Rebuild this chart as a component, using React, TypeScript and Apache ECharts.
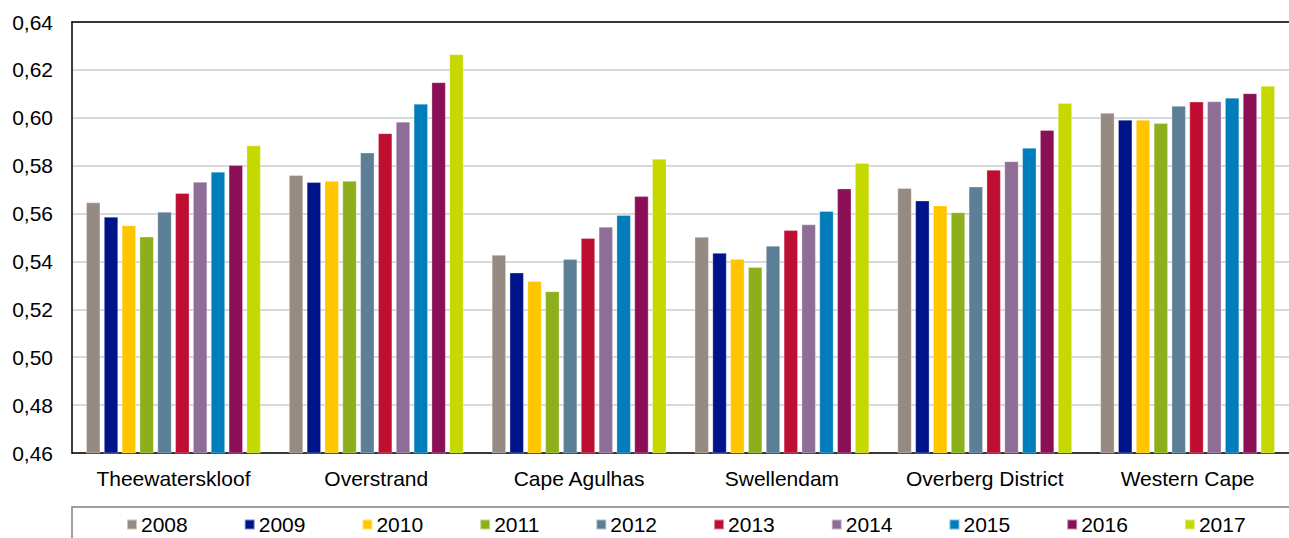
import React, { useEffect, useRef } from "react";
import * as echarts from "echarts";

const categories = ["Theewaterskloof", "Overstrand", "Cape Agulhas", "Swellendam", "Overberg District", "Western Cape"];
const years = ["2008", "2009", "2010", "2011", "2012", "2013", "2014", "2015", "2016", "2017"];
const colors = ["#968B82", "#001489", "#FFC600", "#8DAF1C", "#5C7F96", "#BE0E32", "#8E6D97", "#007DBA", "#8A0F57", "#C5D800"];

// values per year, across categories
const v2008 = [0.5646, 0.5760, 0.5427, 0.5502, 0.5706, 0.6020];
const v2009 = [0.5586, 0.5731, 0.5353, 0.5435, 0.5654, 0.5991];
const v2010 = [0.5550, 0.5736, 0.5317, 0.5410, 0.5633, 0.5991];
const v2011 = [0.5503, 0.5736, 0.5275, 0.5376, 0.5605, 0.5977];
const v2012 = [0.5607, 0.5854, 0.5409, 0.5465, 0.5712, 0.6049];
const v2013 = [0.5685, 0.5935, 0.5497, 0.5530, 0.5782, 0.6067];
const v2014 = [0.5732, 0.5983, 0.5544, 0.5554, 0.5818, 0.6068];
const v2015 = [0.5774, 0.6058, 0.5593, 0.5610, 0.5874, 0.6083];
const v2016 = [0.5802, 0.6148, 0.5672, 0.5704, 0.5948, 0.6102];
const v2017 = [0.5884, 0.6265, 0.5828, 0.5810, 0.6061, 0.6133];
const seriesValues = [v2008, v2009, v2010, v2011, v2012, v2013, v2014, v2015, v2016, v2017];

const FONT = "'Liberation Sans', Arial, sans-serif";

export default function App() {
  const ref = useRef<HTMLDivElement>(null);
  useEffect(() => {
    if (!ref.current) return;
    const chart = echarts.init(ref.current, undefined, { renderer: "svg" });
    chart.setOption({
      animation: false,
      backgroundColor: "#ffffff",
      grid: { left: 72, right: 0, top: 22, bottom: 85, containLabel: false },
      legend: {
        data: years,
        left: 121,
        top: 509,
        padding: [5, 5, 2, 5],
        itemWidth: 10,
        itemHeight: 10,
        itemGap: 56,
        icon: "rect",
        textStyle: { fontFamily: FONT, fontSize: 21, color: "#000", padding: [0, 0, 0, -1] },
      },
      xAxis: [
        {
          type: "category",
          data: categories,
          axisLine: { show: true, lineStyle: { color: "#000", width: 1.5 } },
          axisTick: { show: false },
          axisLabel: { fontFamily: FONT, fontSize: 21, color: "#000", margin: 15, interval: 0 },
        },
        {
          type: "category",
          position: "top",
          data: categories,
          axisLine: { show: true, lineStyle: { color: "#000", width: 1.5 } },
          axisTick: { show: false },
          axisLabel: { show: false },
        },
      ],
      yAxis: {
        type: "value",
        min: 0.46,
        max: 0.64,
        interval: 0.02,
        axisLine: { show: true, lineStyle: { color: "#000", width: 1.5 } },
        axisTick: { show: false },
        splitLine: { show: true, lineStyle: { color: "#d9d9d9", width: 2 } },
        axisLabel: {
          fontFamily: FONT,
          fontSize: 21,
          color: "#000",
          margin: 19,
          formatter: (v: number) => v.toFixed(2).replace(".", ","),
        },
      },
      graphic: [
        {
          type: "rect",
          shape: { x: 72, y: 507, width: 1300, height: 100 },
          style: { fill: "none", stroke: "#7f7f7f", lineWidth: 1.5 },
          silent: true,
        },
      ],
      series: years.map((y, i) => ({
        name: y,
        type: "bar",
        data: seriesValues[i],
        barCategoryGap: "14%",
        barGap: "27%",
        itemStyle: { color: colors[i], borderColor: "rgba(255,255,255,0.5)", borderWidth: 0.6 },
      })),
    });
    return () => chart.dispose();
  }, []);
  return <div ref={ref} style={{ position: "fixed", left: 0, top: 0, width: 1289, height: 538 }} />;
}
